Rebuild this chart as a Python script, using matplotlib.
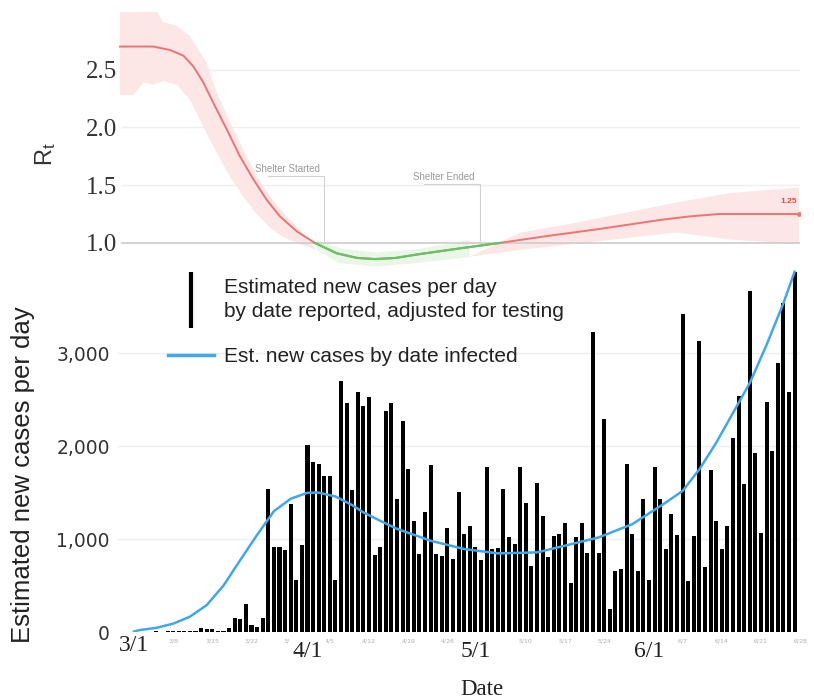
import numpy as np
import matplotlib.pyplot as plt
from matplotlib.lines import Line2D
import matplotlib.transforms as mtransforms

plt.rcParams['mathtext.default'] = 'regular'

# day 0 = 3/1
case_days = list(range(1, 119))
case_vals = [0, 0, 5, 8, 5, 10, 8, 6, 12, 10, 15, 38, 30, 28, 12, 15, 45, 154, 135, 297,
             80, 50, 150, 1535, 910, 910, 880, 1375, 555, 940, 2007, 1832, 1810, 1680, 1680,
             555, 2700, 2465, 1525, 2580, 2430, 2525, 830, 920, 2380, 2465, 1430, 2270, 1750,
             1196, 840, 1296, 1796, 840, 820, 1114, 785, 1510, 1054, 1136, 910, 770, 1780, 895,
             905, 1535, 1018, 946, 1770, 1393, 715, 1604, 1250, 810, 1036, 1054, 1168, 525,
             1025, 1168, 846, 3232, 854, 2296, 250, 654, 680, 1810, 1054, 654, 1430, 560, 1771,
             1430, 893, 1268, 1046, 3418, 554, 1036, 3132, 696, 1743, 1196, 893, 1136, 2090,
             2536, 1590, 3668, 1921, 1061, 2475, 1946, 2893, 3536, 2582, 3875]

inf_days = [0, 1, 4, 7, 10, 13, 16, 19, 22, 25, 28, 31, 33, 36, 39, 41, 44, 47, 53, 59, 65,
            72, 77, 83, 89, 95, 98, 101, 104, 107, 110, 113, 116, 118]
inf_vals = [5, 21, 45, 90, 165, 290, 500, 775, 1045, 1300, 1434, 1498, 1500, 1458, 1365,
            1286, 1196, 1110, 982, 893, 846, 857, 929, 1018, 1160, 1393, 1518, 1750, 2036,
            2357, 2679, 3089, 3536, 3875]

rt_days = [-2.5, 3.4, 6.4, 8.8, 10.5, 12.3, 14.1, 16.5, 18.8, 21.2, 23.6, 25.9, 28.9, 32.1,
           36.0, 39.6, 42.8, 46.5, 50.3, 57.5, 65.0, 73.4, 82.6, 88.1, 93.6, 98.8, 103.9, 118.1]
rt_vals = [2.70, 2.70, 2.67, 2.62, 2.53, 2.39, 2.21, 1.98, 1.75, 1.55, 1.37, 1.23, 1.10, 1.00,
           0.91, 0.87, 0.86, 0.87, 0.90, 0.95, 1.00, 1.06, 1.12, 1.16, 1.20, 1.23, 1.25, 1.25]

band_days = [-2.5, -0.1, 1.7, 3.4, 5.2, 7.6, 9.9, 12.9, 14.7, 17.1, 19.4, 21.8, 24.2, 26.5,
             29.5, 32.4, 36.3, 42.8, 50.3, 59.5, 68.7, 78.0, 87.2, 96.4, 105.7, 118.1]
band_hi = [3.05, 3.05, 3.05, 3.05, 2.91, 2.88, 2.79, 2.56, 2.30, 2.04, 1.81, 1.58, 1.40, 1.26,
           1.11, 1.03, 0.96, 0.92, 0.95, 1.03, 1.09, 1.17, 1.26, 1.35, 1.43, 1.48]
band_lo = [2.28, 2.28, 2.39, 2.37, 2.40, 2.37, 2.24, 1.95, 1.78, 1.57, 1.40, 1.25, 1.13, 1.05,
           0.99, 0.94, 0.83, 0.80, 0.83, 0.88, 0.94, 0.99, 1.04, 1.09, 1.03, 0.99]

shelter_labels = ['Shelter Started', 'Shelter Ended']
shelter_days = [33.8, 61.5]

small_tick_days = list(range(7, 120, 7))
small_tick_labels = ['3/8', '3/15', '3/22', '3/29', '4/5', '4/12', '4/19', '4/26', '5/3',
                     '5/10', '5/17', '5/24', '5/31', '6/7', '6/14', '6/21', '6/28']
month_days = [0, 31, 61, 92]
month_labels = ['3/1', '4/1', '5/1', '6/1']

RED = '#f07272'
GREEN = '#62c462'
BLUE = '#3fa7f0'
XLIM = (-2.84, 118.3)

fig = plt.figure(figsize=(8.14, 7.0), dpi=100)

# ---- top panel: Rt ----
ax1 = fig.add_axes([0.145, 0.62, 0.838, 0.363])
ax1.set_xlim(*XLIM)
ax1.set_ylim(0.8, 3.0)

bd = np.array(band_days)
in_green = (bd > 32) & (bd < 65)
ax1.fill_between(band_days, band_lo, band_hi, where=~in_green, interpolate=True,
                 color='#fde6e6', lw=0, zorder=1)
ax1.fill_between(band_days, band_lo, band_hi, where=in_green, interpolate=True,
                 color='#eaf6e8', lw=0, zorder=1)

for v in [1.5, 2.0, 2.5]:
    ax1.axhline(v, xmin=0.006, color='#efefef', lw=1, zorder=0)
ax1.axhline(1.0, xmin=0.006, color='#cfcfcf', lw=1.3, zorder=2)

rt = np.array(rt_vals)
ax1.plot(rt_days, rt, color=RED, lw=1.4, zorder=4)
ax1.plot(rt_days, np.where(rt <= 1.0, rt, np.nan), color=GREEN, lw=1.6, zorder=5)
ax1.plot(rt_days[-1], rt_vals[-1], 'o', color=RED, ms=2.5, zorder=6)
ax1.text(rt_days[-1] - 1.9, rt_vals[-1] + 0.08, f'{rt_vals[-1]:.2f}', color='#e8453c',
         fontsize=6, fontweight='bold', ha='center', va='bottom', family='Liberation Sans')

# shelter brackets
bracket_top = [1.575, 1.51]
for lab, d, top in zip(shelter_labels, shelter_days, bracket_top):
    ax1.plot([d - 10, d, d], [top, top, 1.0], color='#d2d2d2', lw=0.8, zorder=3)
    ax1.text(d - 6.5, top + 0.02, lab, fontsize=7, color='#9a9a9a', ha='center',
             va='bottom', family='Liberation Sans')

ax1.set_yticks([1.0, 1.5, 2.0, 2.5])
ax1.set_yticklabels(['1.0', '1.5', '2.0', '2.5'], family='Liberation Serif', fontsize=18,
                    color='#333333')
ax1.tick_params(axis='y', length=0, pad=1)
ax1.set_xticks([])
ax1.set_ylabel('R$_t$', fontsize=17, family='Liberation Sans', color='#333333')
ax1.yaxis.set_label_coords(-0.088, 0.44)
for s in ax1.spines.values():
    s.set_visible(False)
ax1.patch.set_alpha(0)

# ---- bottom panel: cases ----
ax2 = fig.add_axes([0.145, 0.0971, 0.838, 0.524])
ax2.set_xlim(*XLIM)
ax2.set_ylim(0, 3946)
ax2.set_zorder(0)
ax1.set_zorder(1)

ax2.bar(case_days, case_vals, width=0.72, color='black', zorder=3)
ax2.plot(inf_days, inf_vals, color=BLUE, lw=1.8, zorder=4)

ax2.set_yticks([0, 1000, 2000, 3000])
ax2.set_yticklabels(['0', '1,000', '2,000', '3,000'], family='DejaVu Sans', fontsize=13.5,
                    color='#333333')
ax2.yaxis.grid(True, color='#eeeeee', lw=1)
ax2.set_axisbelow(True)
ax2.tick_params(axis='y', length=0, pad=6)
ax2.set_xticks(small_tick_days)
ax2.set_xticklabels(small_tick_labels, fontsize=4.5, color='#b0b0b0')
ax2.tick_params(axis='x', length=0, pad=5)
for s in ax2.spines.values():
    s.set_visible(False)

trans = mtransforms.blended_transform_factory(ax2.transData, ax2.transAxes)
for d, lab in zip(month_days, month_labels):
    yy = -0.036 if d == 0 else -0.052
    ax2.text(d, yy, lab, transform=trans, ha='center', va='center', fontsize=17,
             family='Liberation Serif', color='#222222', zorder=10, clip_on=False,
             bbox=dict(facecolor='white', edgecolor='none', pad=2))

ax2.set_xlabel('Date', family='Liberation Serif', fontsize=16.5, color='#222222')
ax2.xaxis.set_label_coords(0.534, -0.128)
ax2.set_ylabel('Estimated new cases per day', family='Liberation Sans', fontsize=18.5,
               color='#222222')
ax2.yaxis.set_label_coords(-0.122, 0.43)

handles = [Line2D([], [], color='black', marker='|', ls='None', ms=40, mew=3),
           Line2D([], [], color=BLUE, lw=2.5)]
labels = ['Estimated new cases per day\nby date reported, adjusted for testing',
          'Est. new cases by date infected']
leg = ax2.legend(handles, labels, loc='upper left', bbox_to_anchor=(0.073, 0.965),
                 frameon=False, borderpad=0, borderaxespad=0, handlelength=2.2,
                 handletextpad=0.5, labelspacing=1.25,
                 prop={'family': 'Liberation Sans', 'size': 15})
for t in leg.get_texts():
    t.set_color('#222222')
    t.set_linespacing(1.35)

fig.savefig('out.png', dpi=100)
